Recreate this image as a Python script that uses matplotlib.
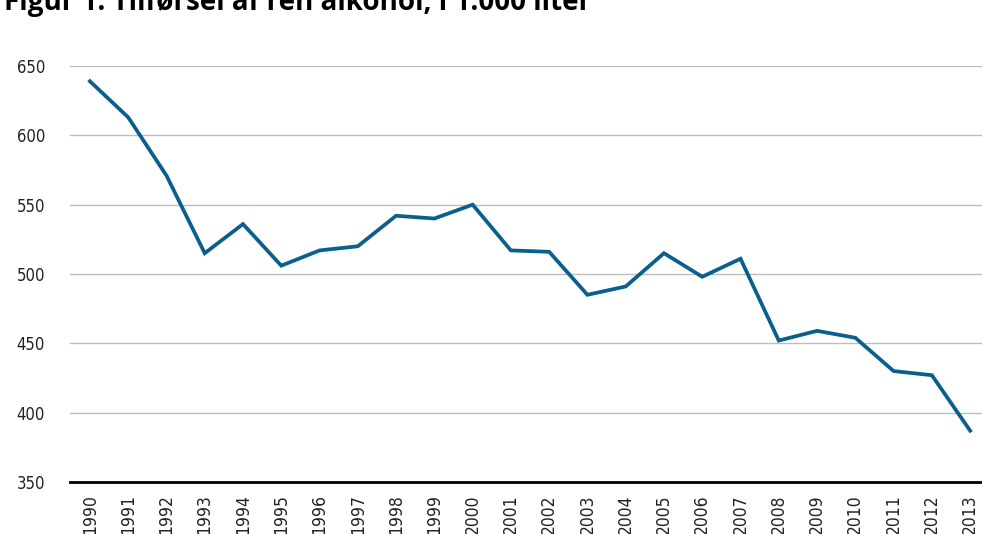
import matplotlib.pyplot as plt

years = list(range(1990, 2014))
values = [639, 613, 571, 515, 536, 506, 517, 520, 542, 540, 550, 517,
          516, 485, 491, 515, 498, 511, 452, 459, 454, 430, 427, 387]
yticks = [350, 400, 450, 500, 550, 600, 650]

fig = plt.figure(figsize=(9.82, 5.34), dpi=100)
ax = fig.add_axes([0.0713, 0.0974, 0.9287, 0.779])

ax.plot(years, values, color='#0a5f8c', linewidth=2.7, solid_joinstyle='miter')

ax.set_xlim(1989.48, 2013.31)
ax.set_ylim(350, 650)
ax.set_yticks(yticks)
ax.set_xticks(years)
ax.set_xticklabels([str(y) for y in years], rotation=90, fontfamily='DejaVu Sans',
                   fontstretch='condensed', fontsize=12.5)
ax.set_yticklabels([str(v) for v in yticks], fontfamily='DejaVu Sans',
                   fontstretch='condensed', fontsize=12)
ax.tick_params(length=0, pad=18, axis='y', colors='#222222')
ax.tick_params(length=0, pad=9, axis='x', colors='#222222')

ax.grid(axis='y', color='#bdbdbd', linewidth=1)
ax.set_axisbelow(True)
for s in ['top', 'right', 'left']:
    ax.spines[s].set_visible(False)
ax.spines['bottom'].set_linewidth(2)
ax.spines['bottom'].set_color('black')
ax.spines['bottom'].set_zorder(5)

fig.text(4 / 982, 1 - 10 / 534, 'Figur 1. Tilførsel af ren alkohol, i 1.000 liter',
         fontsize=20, fontweight='bold', fontfamily='Open Sans', va='baseline', ha='left')

fig.savefig('out.png', dpi=100)
